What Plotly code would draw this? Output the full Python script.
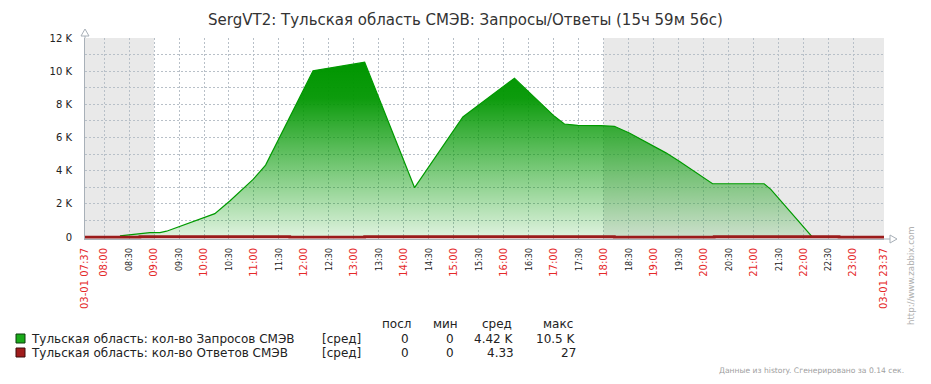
import plotly.graph_objects as go

DAY = "2024-03-01 "
TITLE = "SergVT2: Тульская область СМЭВ: Запросы/Ответы (15ч 59м 56с)"

# ---- data ----
req_times = ["08:19", "08:31", "08:55", "09:07", "09:15", "10:13", "10:31", "10:59",
             "11:14", "12:11", "13:13", "14:13", "15:11", "16:13", "17:01", "17:13",
             "17:29", "17:57", "18:13", "18:31", "19:15", "19:31", "20:11", "21:13",
             "21:21", "22:11", "22:43"]
req_values = [80, 160, 280, 280, 360, 1420, 2180, 3480,
              4340, 10020, 10540, 2980, 7240, 9580, 7280, 6820,
              6740, 6720, 6680, 6280, 5080, 4580, 3220, 3220,
              2880, 0, 0]

resp_times = ["07:37", "08:43", "11:43", "13:13", "18:13", "20:13", "22:43", "23:37"]
resp_values = [3, 27, 3, 27, 3, 27, 3, 3]

series_names = ["Тульская область: кол-во Запросов СМЭВ",
                "Тульская область: кол-во Ответов СМЭВ"]
series_func = ["[сред]", "[сред]"]
stat_headers = ["посл", "мин", "сред", "макс"]
req_stats = ["0", "0", "4.42 K", "10.5 K"]
resp_stats = ["0", "0", "4.33", "27"]

y_tickvals = [0, 2000, 4000, 6000, 8000, 10000, 12000]
y_ticktext = ["0", "2 K", "4 K", "6 K", "8 K", "10 K", "12 K"]

x_start, x_end = "07:37", "23:37"
x_ticks = ["07:37"] + [f"{h:02d}:{m:02d}" for h in range(8, 24) for m in (0, 30) if not (h == 23 and m == 30)] + ["23:37"]

work_start, work_end = "09:00", "18:00"

# ---- styling ----
GREEN = "#009a00"
RED = "#9b1b1b"
GRID = "#b8c0c8"
AXIS = "#a8b0b8"
FONT = "DejaVu Sans"

L, R, T, B = 85, 47, 38, 145
W, H = 931, 384
PW, PH = W - L - R, H - T - B


def px(x):
    return (x - L) / PW


def py(y):
    return (H - B - y) / PH


def tick_label(t):
    if t in (x_start, x_end):
        return f'<span style="color:#e52a2a;font-size:10px">03-01 {t}</span>'
    if t.endswith(":00"):
        return f'<span style="color:#e52a2a;font-size:10px">{t}</span>'
    return f'<span style="color:#222;font-size:8px">{t}</span>'


fig = go.Figure()

fig.add_trace(go.Scatter(
    x=[DAY + t for t in req_times], y=req_values, mode="lines",
    line=dict(color=GREEN, width=1.2),
    fill="tozeroy",
    fillgradient=dict(type="vertical", start=0, stop=10540,
                      colorscale=[[0, "rgba(0,155,0,0.12)"], [0.8, "rgba(0,150,0,0.95)"],
                                  [1, "rgba(0,150,0,1)"]]),
    name=series_names[0], showlegend=False, hoverinfo="skip"))

fig.add_trace(go.Scatter(
    x=[DAY + t for t in resp_times], y=resp_values, mode="lines",
    line=dict(color=RED, width=2.8, shape="hv"),
    name=series_names[1], showlegend=False, hoverinfo="skip"))

shapes = [
    dict(type="rect", xref="x", yref="paper", x0=DAY + x_start, x1=DAY + work_start,
         y0=0, y1=1, fillcolor="#e9e9e9", line=dict(width=0), layer="below"),
    dict(type="rect", xref="x", yref="paper", x0=DAY + work_end, x1=DAY + x_end,
         y0=0, y1=1, fillcolor="#e9e9e9", line=dict(width=0), layer="below"),
    # axis arrows
    dict(type="path", xref="paper", yref="paper", xsizemode="pixel", ysizemode="pixel",
         xanchor=0, yanchor=1, path="M0,0 L0,2 M-4,2 L0,9 L4,2 Z",
         line=dict(color=AXIS, width=1), fillcolor="white", layer="above"),
    dict(type="path", xref="paper", yref="paper", xsizemode="pixel", ysizemode="pixel",
         xanchor=1, yanchor=0, path="M0,0 L6,0 M6,-4 L13,0 L6,4 Z",
         line=dict(color=AXIS, width=1), fillcolor="white", layer="above"),
    # legend squares
    dict(type="rect", xref="paper", yref="paper", x0=px(16), x1=px(25), y0=py(343), y1=py(334),
         fillcolor="#1aaa1a", line=dict(color="#0d3d0d", width=1)),
    dict(type="rect", xref="paper", yref="paper", x0=px(16), x1=px(25), y0=py(357), y1=py(348),
         fillcolor="#a01c1c", line=dict(color="#3d0d0d", width=1)),
]

ann = []


def text(x, y, s, size=12, color="#222", xanchor="left", angle=0):
    ann.append(dict(x=px(x), y=py(y), xref="paper", yref="paper", text=s, showarrow=False,
                    xanchor=xanchor, yanchor="middle", textangle=angle,
                    font=dict(family=FONT, size=size, color=color)))


# legend table
hdr_x = [396, 445, 497, 558]
val_right = [411, 456, 516, 578]
for hx, h in zip(hdr_x, stat_headers):
    text(hx, 324, h, xanchor="center")
for row, (name, func, stats) in enumerate(zip(series_names, series_func, [req_stats, resp_stats])):
    yy = 339 + row * 14
    text(29, yy, name)
    text(320, yy, func)
    for vx, v in zip(val_right, stats):
        text(vx, yy, v, xanchor="right")

text(906, 370, "Данные из history. Сгенерировано за 0.14 сек.", size=7.6, color="#a0a0a0", xanchor="right")
ann.append(dict(x=px(911), y=py(276), xref="paper", yref="paper", text="http://www.zabbix.com",
                showarrow=False, textangle=-90, xanchor="center", yanchor="middle",
                font=dict(family=FONT, size=8.6, color="#b0b0b0")))

fig.update_layout(
    width=W, height=H,
    margin=dict(l=L, r=R, t=T, b=B),
    paper_bgcolor="white", plot_bgcolor="white",
    title=dict(text=TITLE, x=0.5, xref="container", xanchor="center", y=1 - 20 / H, yanchor="middle",
               font=dict(family=FONT, size=15, color="#333")),
    font=dict(family=FONT, size=10, color="#222"),
    shapes=shapes, annotations=ann,
    xaxis=dict(type="date", range=[DAY + x_start, DAY + x_end],
               tickmode="array", tickvals=[DAY + t for t in x_ticks],
               ticktext=[tick_label(t) for t in x_ticks], tickangle=-90,
               showgrid=True, gridcolor=GRID, griddash="2px,2px", gridwidth=1,
               showline=True, linecolor=AXIS, linewidth=1, layer="below traces",
               ticks="", ticklabelstandoff=4, zeroline=False,
               tickfont=dict(family=FONT, size=10)),
    yaxis=dict(range=[-110, 12000], tickmode="array", tickvals=y_tickvals, ticktext=y_ticktext,
               showgrid=True, gridcolor=GRID, griddash="2px,2px", gridwidth=1,
               minor=dict(tickmode="linear", tick0=0, dtick=1000, showgrid=True,
                          gridcolor=GRID, griddash="2px,2px", gridwidth=1),
               showline=True, linecolor=AXIS, linewidth=1, zeroline=False, layer="below traces",
               ticks="", ticklabelstandoff=10,
               tickfont=dict(family=FONT, size=10, color="#222")),
)

fig.write_html("out.html", config={"displayModeBar": False},
               post_script="document.body.style.margin='0';")
